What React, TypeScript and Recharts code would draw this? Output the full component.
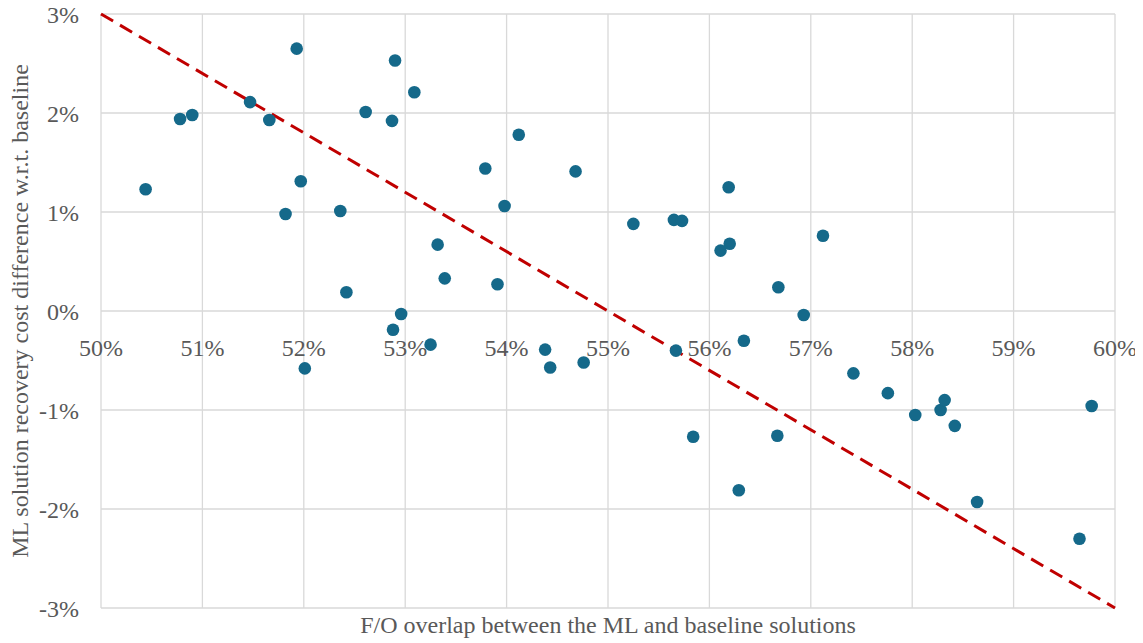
import React from 'react';
import {
  ScatterChart,
  Scatter,
  XAxis,
  YAxis,
  CartesianGrid,
  ReferenceLine,
  Label,
} from 'recharts';

// ---- Data (percent units) ----
const overlap: number[] = [
  50.44, 50.78, 50.9, 51.47, 51.66, 51.82, 51.93, 51.97, 52.01, 52.36,
  52.42, 52.61, 52.87, 52.88, 52.9, 52.96, 53.09, 53.25, 53.32, 53.39,
  53.79, 53.91, 53.98, 54.12, 54.38, 54.43, 54.68, 54.76, 55.25, 55.65,
  55.67, 55.73, 55.84, 56.11, 56.19, 56.2, 56.29, 56.34, 56.67, 56.68,
  56.93, 57.12, 57.42, 57.76, 58.03, 58.28, 58.32, 58.42, 58.64, 59.65,
  59.77,
];
const costDiff: number[] = [
  1.23, 1.94, 1.98, 2.11, 1.93, 0.98, 2.65, 1.31, -0.58, 1.01,
  0.19, 2.01, 1.92, -0.19, 2.53, -0.03, 2.21, -0.34, 0.67, 0.33,
  1.44, 0.27, 1.06, 1.78, -0.39, -0.57, 1.41, -0.52, 0.88, 0.92,
  -0.4, 0.91, -1.27, 0.61, 1.25, 0.68, -1.81, -0.3, -1.26, 0.24,
  -0.04, 0.76, -0.63, -0.83, -1.05, -1.0, -0.9, -1.16, -1.93, -2.3,
  -0.96,
];
const xTicks: number[] = [50, 51, 52, 53, 54, 55, 56, 57, 58, 59, 60];
const yTicks: number[] = [-3, -2, -1, 0, 1, 2, 3];
const trendX: number[] = [50, 60];
const trendY: number[] = [3, -3];

const xTitle = 'F/O overlap between the ML and baseline solutions';
const yTitle = 'ML solution recovery cost difference w.r.t. baseline';

const data = overlap.map((x, i) => ({ x, y: costDiff[i] }));

// ---- Layout / style ----
const W = 1143;
const H = 643;
const MARGIN = { top: 14, right: 28, left: 0, bottom: 8 };
const Y_AXIS_W = 101;
const X_AXIS_H = 27;
const PLOT_H = H - MARGIN.top - MARGIN.bottom - X_AXIS_H;
const FONT = "'Liberation Serif', 'Times New Roman', serif";
const TEXT_COLOR = '#595959';
const GRID_COLOR = '#d9d9d9';
const DOT_COLOR = '#15698a';
const TREND_COLOR = '#c00000';

const yMin = yTicks[0];
const yMax = yTicks[yTicks.length - 1];

const XTick = (props: any) => {
  const { x, y, payload } = props;
  // labels sit just under the y = 0 line
  const zeroShift = (PLOT_H * (0 - yMin)) / (yMax - yMin);
  return (
    <text
      x={x}
      y={y - zeroShift + 37}
      textAnchor="middle"
      fill={TEXT_COLOR}
      fontSize={24}
      fontFamily={FONT}
    >
      {`${payload.value}%`}
    </text>
  );
};

const Dot = (props: any) => {
  const { cx, cy } = props;
  if (cx == null || cy == null) return null;
  return <circle cx={cx} cy={cy} r={6.3} fill={DOT_COLOR} />;
};

const XTitle = (props: any) => {
  const { viewBox } = props;
  return (
    <text
      x={viewBox.x + viewBox.width / 2}
      y={viewBox.y + 25}
      textAnchor="middle"
      fill={TEXT_COLOR}
      fontSize={24}
      fontFamily={FONT}
    >
      {xTitle}
    </text>
  );
};

const YTitle = (props: any) => {
  const { viewBox } = props;
  const cx = viewBox.x + 28;
  const cy = viewBox.y + viewBox.height / 2;
  return (
    <text
      x={cx}
      y={cy}
      transform={`rotate(-90, ${cx}, ${cy})`}
      textAnchor="middle"
      fill={TEXT_COLOR}
      fontSize={24}
      fontFamily={FONT}
    >
      {yTitle}
    </text>
  );
};

export default function App() {
  return (
    <div style={{ width: W, height: H, background: '#fff', margin: '-8px 0 0 -8px' }}>
      <ScatterChart width={W} height={H} margin={MARGIN}>
        <CartesianGrid stroke={GRID_COLOR} strokeWidth={1.3} />
        <XAxis
          type="number"
          dataKey="x"
          domain={[xTicks[0], xTicks[xTicks.length - 1]]}
          ticks={xTicks}
          interval={0}
          axisLine={false}
          tickLine={false}
          height={X_AXIS_H}
          tick={<XTick />}
        >
          <Label content={<XTitle />} />
        </XAxis>
        <YAxis
          type="number"
          dataKey="y"
          domain={[yMin, yMax]}
          ticks={yTicks}
          interval={0}
          axisLine={false}
          tickLine={false}
          tickSize={0}
          tickMargin={22}
          width={Y_AXIS_W}
          tickFormatter={(v: number) => `${v}%`}
          tick={{ fill: TEXT_COLOR, fontSize: 24, fontFamily: FONT }}
        >
          <Label content={<YTitle />} />
        </YAxis>
        <Scatter data={data} shape={<Dot />} isAnimationActive={false} />
        <ReferenceLine
          segment={[
            { x: trendX[0], y: trendY[0] },
            { x: trendX[1], y: trendY[1] },
          ]}
          stroke={TREND_COLOR}
          strokeWidth={3}
          strokeDasharray="14 8"
        />
      </ScatterChart>
    </div>
  );
}
